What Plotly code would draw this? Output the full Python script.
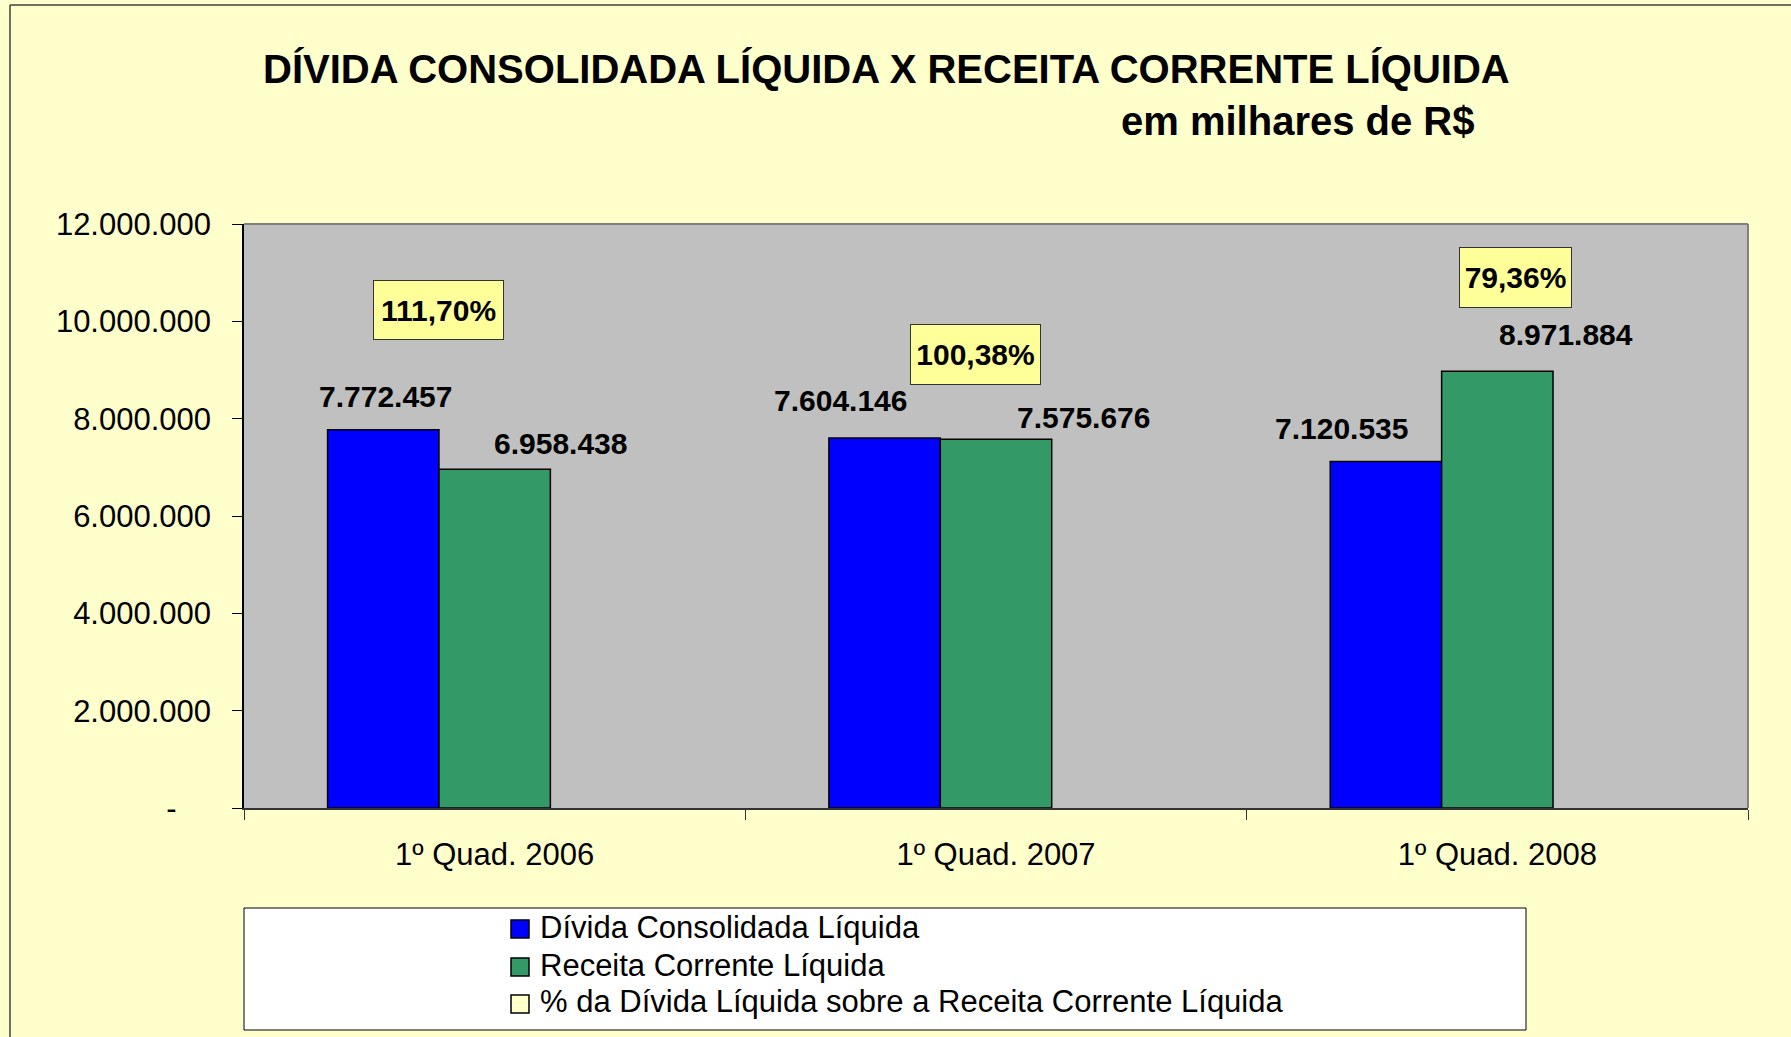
import plotly.graph_objects as go

# ---------------- data ----------------
categories = ["1º Quad. 2006", "1º Quad. 2007", "1º Quad. 2008"]
divida = [7772457, 7604146, 7120535]
receita = [6958438, 7575676, 8971884]
percentual = [1.1170, 1.0038, 0.7936]
y_ticks = [0, 2000000, 4000000, 6000000, 8000000, 10000000, 12000000]

series_names = ["Dívida Consolidada Líquida", "Receita Corrente Líquida",
                "% da Dívida Líquida sobre a Receita Corrente Líquida"]

title_text = "DÍVIDA CONSOLIDADA LÍQUIDA X RECEITA CORRENTE LÍQUIDA"
subtitle_text = "em milhares de R$"

# ---------------- styling / label placement (pixels) ----------------
W, H = 1791, 1037
L, R, T, B = 244, 1748, 224, 808          # plot area in pixels
FONT = "Liberation Sans, Arial, sans-serif"
BLUE, GREEN, PALE = "#0000FF", "#339966", "#FFFFCC"

# manual offsets of value labels relative to bar tops (xshift, yshift in px)
div_label_shift = [(-109, 33), (-156, 37), (-156, 33)]
rec_label_shift = [(66, 26), (87, 22), (69, 37)]
# yellow % boxes: (xshift from category centre px, box centre y px, width, height)
pct_box = [(-56, 309.5, 129, 58), (-21, 354, 129, 59), (18, 277, 111, 59)]


def px2paper_x(px):
    return (px - L) / (R - L)


def px2paper_y(py):
    return (B - py) / (B - T)


def fmt_int(v):
    return f"{v:,}".replace(",", ".")


def fmt_pct(v):
    return f"{v * 100:.2f}".replace(".", ",") + "%"


fig = go.Figure()
fig.add_trace(go.Bar(x=categories, y=divida, name=series_names[0],
                     marker=dict(color=BLUE, line=dict(color="#000", width=1.5))))
fig.add_trace(go.Bar(x=categories, y=receita, name=series_names[1],
                     marker=dict(color=GREEN, line=dict(color="#000", width=1.5))))
fig.add_trace(go.Bar(x=categories, y=percentual, name=series_names[2],
                     marker=dict(color=PALE, line=dict(width=0))))

annotations = []
# value labels
for i, c in enumerate(categories):
    for vals, shifts in ((divida, div_label_shift), (receita, rec_label_shift)):
        xs, ys = shifts[i]
        annotations.append(dict(
            x=c, y=vals[i], xref="x", yref="y", text=fmt_int(vals[i]),
            showarrow=False, xshift=xs, yshift=ys, xanchor="center", yanchor="middle",
            font=dict(family=FONT, size=30, color="#000", weight="bold")))
    xs, cy, bw, bh = pct_box[i]
    annotations.append(dict(
        x=c, y=(B - cy) / (B - T) * 12000000, xref="x", yref="y",
        text="<b>" + fmt_pct(percentual[i]) + "</b>",
        showarrow=False, xshift=xs, xanchor="center", yanchor="middle",
        width=bw, height=bh, align="center", valign="middle",
        bgcolor="#FFFF99", bordercolor="#333333", borderwidth=1, borderpad=0,
        font=dict(family=FONT, size=30, color="#000")))

# titles
annotations.append(dict(x=px2paper_x(886), y=px2paper_y(69), xref="paper", yref="paper",
                        text="<b>" + title_text + "</b>", showarrow=False,
                        xanchor="center", yanchor="middle",
                        font=dict(family=FONT, size=40, color="#000")))
annotations.append(dict(x=px2paper_x(1298), y=px2paper_y(121), xref="paper", yref="paper",
                        text="<b>" + subtitle_text + "</b>", showarrow=False,
                        xanchor="center", yanchor="middle",
                        font=dict(family=FONT, size=40, color="#000")))

shapes = []
# outer chart border (left and top visible)
shapes.append(dict(type="line", xref="paper", yref="paper",
                   x0=px2paper_x(10), x1=px2paper_x(10), y0=px2paper_y(5), y1=px2paper_y(1100),
                   line=dict(color="#404040", width=1.5)))
shapes.append(dict(type="line", xref="paper", yref="paper",
                   x0=px2paper_x(10), x1=px2paper_x(1900), y0=px2paper_y(5), y1=px2paper_y(5),
                   line=dict(color="#404040", width=1.5)))
# plot area border top & right
shapes.append(dict(type="line", xref="paper", yref="paper", x0=0, x1=1, y0=1, y1=1,
                   line=dict(color="#808080", width=2)))
shapes.append(dict(type="line", xref="paper", yref="paper", x0=1, x1=1, y0=0, y1=1,
                   line=dict(color="#808080", width=2)))

# legend (manual, Excel-style box)
shapes.append(dict(type="rect", xref="paper", yref="paper",
                   x0=px2paper_x(244), x1=px2paper_x(1526), y0=px2paper_y(1030), y1=px2paper_y(908),
                   fillcolor="#FFFFFF", line=dict(color="#000", width=1)))
legend_colors = [BLUE, GREEN, PALE]
legend_rows = [929, 967, 1004]
for name, col, cy in zip(series_names, legend_colors, legend_rows):
    shapes.append(dict(type="rect", xref="paper", yref="paper",
                       x0=px2paper_x(511), x1=px2paper_x(529),
                       y0=px2paper_y(cy + 9), y1=px2paper_y(cy - 9),
                       fillcolor=col, line=dict(color="#000", width=1.5)))
    annotations.append(dict(x=px2paper_x(538), y=px2paper_y(cy - 2), xref="paper", yref="paper",
                            text=name, showarrow=False, xanchor="left", yanchor="middle",
                            font=dict(family=FONT, size=31, color="#000")))

nb = "\u00a0"
y_ticktext = [("-" + nb * 4) if v == 0 else fmt_int(v) for v in y_ticks]

fig.update_layout(
    width=W, height=H,
    margin=dict(l=L, r=W - R, t=T, b=H - B, pad=0),
    paper_bgcolor=PALE, plot_bgcolor="#C0C0C0",
    barmode="group", bargap=1 / 3, bargroupgap=0,
    showlegend=False,
    annotations=annotations, shapes=shapes,
    font=dict(family=FONT, color="#000"),
)
fig.update_xaxes(type="category", range=[-0.5, 2.5], showgrid=False,
                 showline=True, linecolor="#333333", linewidth=1.5,
                 ticks="outside", ticklen=10, tickcolor="#333333", tickson="boundaries",
                 tickfont=dict(family=FONT, size=31, color="#000"), ticklabelstandoff=18)
fig.update_yaxes(range=[0, 12000000], showgrid=False, zeroline=False,
                 tickvals=y_ticks, ticktext=y_ticktext,
                 showline=True, linecolor="#000000", linewidth=1.5,
                 ticks="outside", ticklen=10, tickcolor="#000000",
                 tickfont=dict(family=FONT, size=31, color="#000"), ticklabelstandoff=15)

fig.write_html("out.html", config={"displayModeBar": False},
               post_script="document.body.style.margin='0';document.body.style.overflow='hidden';")
